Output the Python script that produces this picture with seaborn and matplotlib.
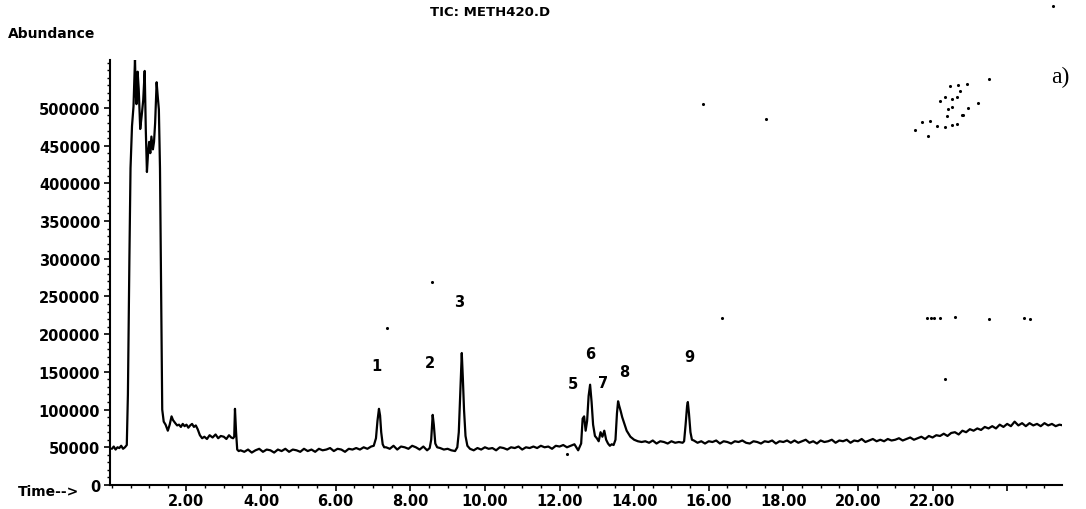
import numpy as np
import pandas as pd
import matplotlib
matplotlib.use("Agg")
import matplotlib.pyplot as plt
import seaborn as sns

# ---------------- data (abundance in thousands of counts) ----------------
solvent_t = [0.00, 0.05, 0.10, 0.15, 0.20, 0.25, 0.30, 0.35, 0.40, 0.43, 0.47, 0.50, 0.54, 0.58,
             0.62, 0.64, 0.66, 0.69, 0.72, 0.76, 0.80, 0.84, 0.88, 0.91, 0.94, 0.97, 1.00, 1.03,
             1.06, 1.10, 1.13, 1.16, 1.20, 1.23, 1.26, 1.29, 1.32, 1.35, 1.39, 1.44, 1.50, 1.55,
             1.60, 1.64, 1.70, 1.75, 1.80, 1.85, 1.90, 1.95, 2.00, 2.05, 2.10, 2.15, 2.20, 2.25,
             2.30, 2.36, 2.42, 2.48, 2.55, 2.62, 2.70, 2.78, 2.85, 2.92, 3.00, 3.07, 3.14, 3.20,
             3.25, 3.28, 3.30, 3.33, 3.36, 3.40]
solvent_v = [48, 51, 47, 50, 49, 52, 48, 50, 53, 120, 300, 420, 476, 502,
             565, 520, 505, 548, 525, 472, 490, 510, 549, 470, 415, 440, 455, 440,
             462, 445, 455, 480, 534, 515, 498, 420, 260, 100, 84, 80, 72, 80,
             91, 86, 82, 79, 80, 77, 81, 78, 80, 76, 79, 81, 77, 79,
             74, 66, 62, 64, 61, 66, 63, 67, 62, 65, 64, 61, 66, 63,
             62, 64, 101, 70, 47, 45]

base_b_start, base_b_v = 3.45, [46, 44, 47, 43, 46, 48, 44, 47, 46, 43,
                                47, 45, 48, 44, 47, 46, 44, 48, 45, 47,
                                44, 48, 46, 47, 49, 45, 48, 47, 44, 48,
                                47, 49, 47, 50, 48, 51]
peak1_t = [7.02, 7.08, 7.12, 7.16, 7.19, 7.22, 7.26, 7.30]
peak1_v = [52, 62, 85, 101, 92, 70, 54, 50]
base_c_start, base_c_v = 7.35, [50, 48, 52, 47, 51, 50, 48, 52, 50, 47, 51, 46]
peak2_t = [8.52, 8.56, 8.60, 8.63, 8.67, 8.72]
peak2_v = [49, 60, 93, 80, 55, 50]
base_d_start, base_d_v = 8.80, [49, 47, 48, 46, 45]
peak3_t = [9.26, 9.30, 9.33, 9.36, 9.38, 9.41, 9.44, 9.48, 9.53]
peak3_v = [50, 70, 110, 150, 175, 140, 100, 65, 52]
base_e_start, base_e_v = 9.60, [48, 46, 49, 47, 50, 48, 49, 46, 50, 49,
                                47, 50, 49, 51, 47, 50, 49, 51, 49, 52,
                                50, 51, 48, 52, 51, 53, 50, 52, 54, 46]
peaks5_8_t = [12.58, 12.62, 12.66, 12.70, 12.74, 12.78, 12.82, 12.86, 12.90, 12.95,
              13.00, 13.05, 13.10, 13.15, 13.20, 13.25, 13.30, 13.35, 13.40, 13.45,
              13.50, 13.54, 13.57, 13.60, 13.64, 13.68, 13.72, 13.76, 13.80, 13.85,
              13.90, 13.95, 14.00, 14.10, 14.20]
peaks5_8_v = [55, 88, 91, 72, 85, 118, 133, 110, 80, 65,
              62, 58, 70, 64, 72, 60, 55, 52, 54, 53,
              60, 95, 111, 105, 98, 90, 84, 78, 72, 68,
              64, 62, 60, 58, 57]
base_f_start, base_f_v = 14.30, [58, 56, 59, 55, 58, 57, 55, 58, 56, 57, 56]
peak9_t = [15.34, 15.38, 15.42, 15.44, 15.47, 15.51, 15.55]
peak9_v = [58, 80, 105, 110, 95, 70, 60]
base_g_start, base_g_v = 15.60, [59, 56, 58, 55, 58, 57, 59, 55, 58, 57,
                                 55, 58, 57, 59, 56, 55, 58, 57, 55, 58,
                                 57, 59, 55, 58, 57, 59, 56, 59, 56, 58,
                                 60, 56, 58, 55, 59, 57, 58, 60, 56, 59,
                                 58, 60, 56, 59, 58, 61, 57, 59, 61, 58,
                                 60, 58, 61, 59, 60, 62, 59, 61, 63, 60,
                                 62, 64, 61, 65, 63, 66, 65, 68, 65, 69,
                                 70, 67, 72, 70, 74, 72, 75, 73, 77, 75,
                                 78, 75, 80, 77, 81, 78, 84, 79, 82, 78,
                                 82, 79, 81, 78, 82, 79, 81, 78, 80, 79]
SCAN_STEP = 0.1  # minutes between baseline readings

peak_names = ["1", "2", "3", "5", "6", "7", "8", "9"]
peak_label_t = [7.08, 8.53, 9.30, 12.36, 12.82, 13.16, 13.73, 15.47]
peak_label_v = [158000, 163000, 243000, 135000, 175000, 136500, 150000, 170000]

# stray specks of the scanned page (time, abundance)
speck_t = [21.88, 21.53, 21.72, 21.93, 22.12, 22.33, 22.52, 22.65, 22.39, 22.82, 22.78,
           22.41, 22.52, 22.20, 22.33, 22.52, 22.65, 22.73, 22.47, 22.68, 22.92, 23.22,
           23.51, 22.95, 25.23, 7.37, 8.58, 16.35, 12.20, 15.84, 17.53,
           21.85, 21.95, 22.05, 22.20, 22.60, 23.50, 24.45, 24.60, 22.33]
speck_v = [462800, 470700, 481300, 482700, 476000, 474700, 477400, 478700, 489300, 490600, 490600,
           498600, 501200, 509200, 514500, 511800, 514500, 522400, 529100, 530400, 531700, 506500,
           538400, 499900, 635000, 208000, 269000, 221000, 41000, 505000, 485000,
           221000, 222000, 221000, 222000, 223000, 220000, 221000, 220000, 140000]

xtick_vals = [2, 4, 6, 8, 10, 12, 14, 16, 18, 20, 22, 24]
xtick_text = ["2.00", "4.00", "6.00", "8.00", "10.00", "12.00", "14.00", "16.00",
              "18.00", "20.00", "22.00", ""]
ytick_vals = [0, 50000, 100000, 150000, 200000, 250000, 300000, 350000, 400000, 450000, 500000]


def baseline(start, vals):
    return list(start + SCAN_STEP * np.arange(len(vals))), list(vals)


pieces = [
    (solvent_t, solvent_v),
    baseline(base_b_start, base_b_v),
    (peak1_t, peak1_v),
    baseline(base_c_start, base_c_v),
    (peak2_t, peak2_v),
    baseline(base_d_start, base_d_v),
    (peak3_t, peak3_v),
    baseline(base_e_start, base_e_v),
    (peaks5_8_t, peaks5_8_v),
    baseline(base_f_start, base_f_v),
    (peak9_t, peak9_v),
    baseline(base_g_start, base_g_v),
]
times, vals = [], []
for t, v in pieces:
    times += list(t)
    vals += list(v)
df = pd.DataFrame({"time": times, "abundance": np.array(vals, dtype=float) * 1000})
specks = pd.DataFrame({"time": speck_t, "abundance": speck_v})

# ---------------- figure ----------------
sns.set_style("ticks")
plt.rcParams["font.family"] = ["DejaVu Sans"]
plt.rcParams["text.color"] = "black"
plt.rcParams["axes.edgecolor"] = "black"
plt.rcParams["xtick.color"] = "black"
plt.rcParams["ytick.color"] = "black"

W, H = 1086, 510
fig = plt.figure(figsize=(W / 100, H / 100), dpi=100)
ax = fig.add_axes([110 / W, 24 / H, (1062 - 110) / W, (486 - 61) / H])

sns.lineplot(data=df, x="time", y="abundance", ax=ax, color="black",
             linewidth=1.6, estimator=None, sort=False)
sns.scatterplot(data=specks, x="time", y="abundance", ax=ax, color="black",
                s=5, linewidth=0, clip_on=False)

ax.set_xlim(-0.05, 25.47)
ax.set_ylim(0, 563500)

ax.set_xticks(xtick_vals, xtick_text)
ax.xaxis.set_minor_locator(matplotlib.ticker.MultipleLocator(0.5))
ax.set_yticks(ytick_vals, [str(v) for v in ytick_vals])
ax.yaxis.set_minor_locator(matplotlib.ticker.MultipleLocator(10000))

ax.tick_params(axis="x", which="major", direction="out", length=4, width=1.2,
               pad=2, labelsize=10.5, colors="black")
ax.tick_params(axis="x", which="minor", direction="out", length=2, width=1, colors="black")
ax.tick_params(axis="y", which="major", direction="out", length=4, width=1.2,
               pad=3, labelsize=10.5, colors="black")
ax.tick_params(axis="y", which="minor", direction="out", length=2, width=1, colors="black")
for lab in ax.get_xticklabels() + ax.get_yticklabels():
    lab.set_fontweight("bold")

for s in ("top", "right"):
    ax.spines[s].set_visible(False)
for s in ("left", "bottom"):
    ax.spines[s].set_linewidth(1.5)
    ax.spines[s].set_color("black")

ax.set_xlabel("")
ax.set_ylabel("")

for name, t, v in zip(peak_names, peak_label_t, peak_label_v):
    ax.text(t, v, name, ha="center", va="center", fontsize=10.5,
            fontweight="bold", color="black")

fig.text(490 / W, 1 - 12 / H, "TIC: METH420.D", ha="center", va="center",
         fontsize=9.5, fontweight="bold", color="black")
fig.text(8 / W, 1 - 34 / H, "Abundance", ha="left", va="center",
         fontsize=10, fontweight="bold", color="black")
fig.text(18 / W, 1 - 492 / H, "Time-->", ha="left", va="center",
         fontsize=10, fontweight="bold", color="black")
fig.text(1060 / W, 1 - 77 / H, "a)", ha="center", va="center",
         fontsize=17, family="Liberation Serif", color="black")

fig.savefig("out.png", dpi=100)
